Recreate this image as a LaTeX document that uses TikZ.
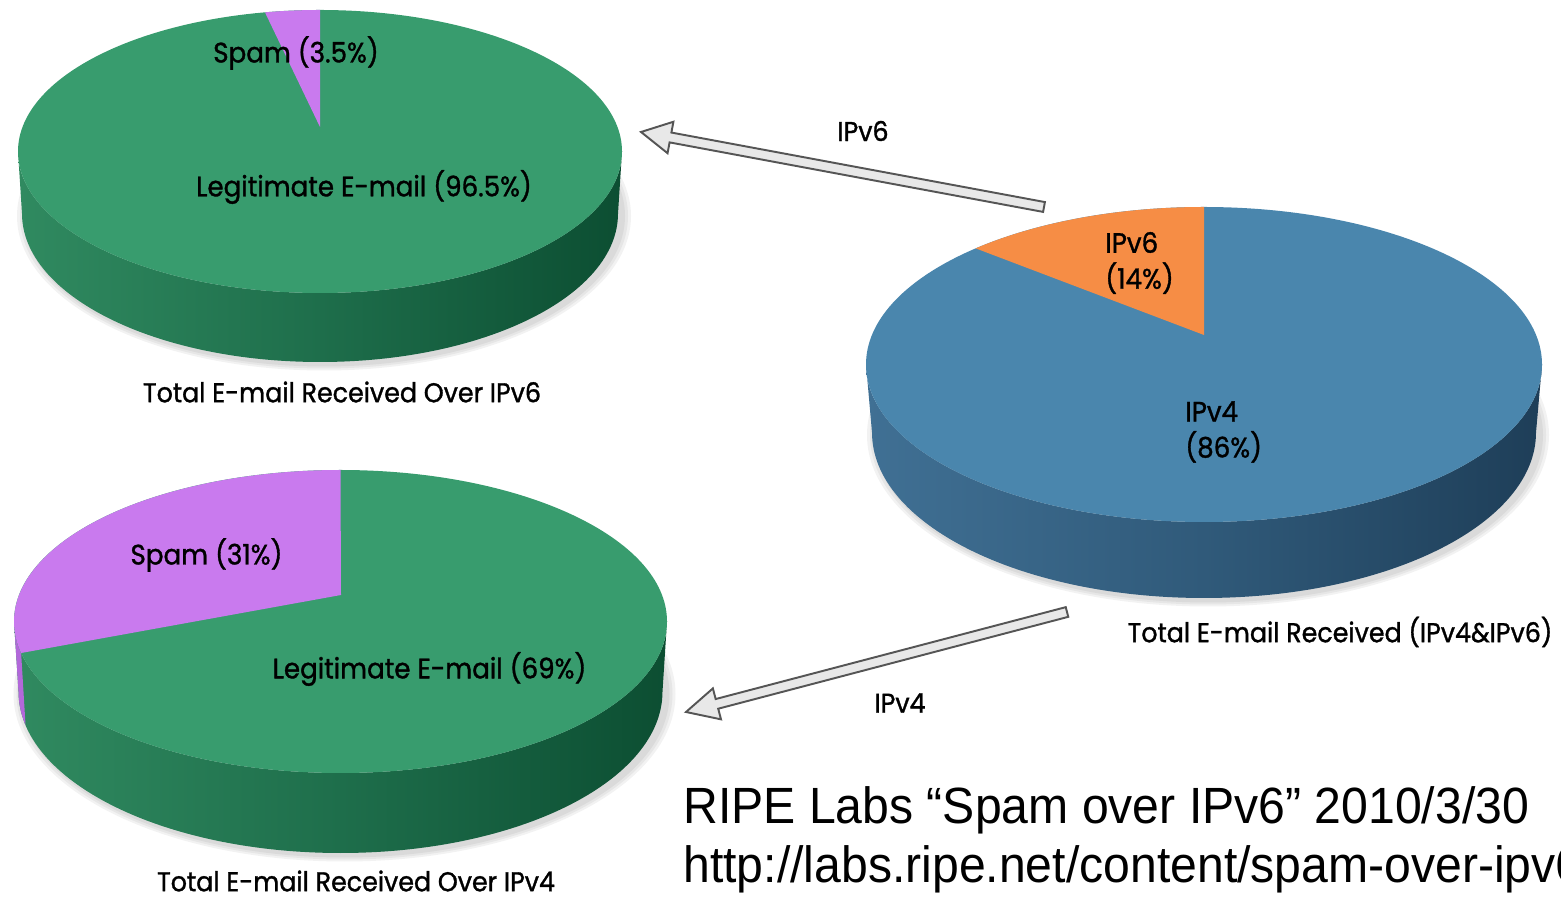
\documentclass[tikz,border=0pt]{standalone}
\usepackage{fontspec}
\usetikzlibrary{calc}
\newfontfamily\lab[FakeStretch=0.93,FakeBold=1.2]{Poppins}
\newfontfamily\helv[FakeStretch=0.945]{Liberation Sans}
\definecolor{gtop}{RGB}{56,156,110}
\definecolor{gsideL}{RGB}{48,138,96}
\definecolor{gsideM}{RGB}{30,110,75}
\definecolor{gsideR}{RGB}{12,78,50}
\definecolor{purp}{RGB}{201,122,238}
\definecolor{purpside}{RGB}{178,104,218}
\definecolor{btop}{RGB}{74,134,173}
\definecolor{bsideL}{RGB}{64,112,148}
\definecolor{bsideM}{RGB}{48,90,122}
\definecolor{bsideR}{RGB}{30,62,88}
\definecolor{orng}{RGB}{246,141,69}
\definecolor{arrfill}{RGB}{232,232,232}
\definecolor{arrline}{RGB}{85,85,85}
\begin{document}
\begin{tikzpicture}[x=0.02cm,y=0.02cm,
  lbl/.style={font=\lab\fontsize{16}{20.4}\selectfont, inner sep=0pt, text=black},
  capt/.style={font=\lab\fontsize{15.5}{18}\selectfont, inner sep=0pt, text=black},
  ripe/.style={font=\helv\fontsize{29}{34}\selectfont, inner sep=0pt, text=black},
  blockarrow/.style={fill=arrfill, draw=arrline, line width=1.1pt, line join=miter},
  shadowell/.style={fill=black, opacity=0.05}]
\useasboundingbox (0,0) rectangle (1561,899);
\clip (0,0) rectangle (1561,899);

% ---------- Pie 1 (top left) ----------
\foreach \k in {1,2,3} {\fill[shadowell] (324,683) ellipse[x radius=298+3*\k, y radius=148.5+2*\k];}
\path[left color=gsideL, right color=gsideR, middle color=gsideM]
  (18,747.5) -- (22,685.5) arc[start angle=180, end angle=360, x radius=298, y radius=148.5]
  -- (622,747.5) arc[start angle=0, end angle=-180, x radius=302, y radius=141.5] -- cycle;
\fill[gtop] (320,747.5) ellipse[x radius=302, y radius=141.5];
\fill[purp] (320,772) -- (320,889) arc[start angle=90, end angle=100.5, x radius=302, y radius=141.5] -- cycle;

% ---------- Pie 2 (right) ----------
\foreach \k in {1,2,3} {\fill[shadowell] (1208,464) ellipse[x radius=332+3*\k, y radius=165.5+2*\k];}
\path[left color=bsideL, right color=bsideR, middle color=bsideM]
  (866,534.5) -- (872,466.5) arc[start angle=180, end angle=360, x radius=332, y radius=165.5]
  -- (1542,534.5) arc[start angle=0, end angle=-180, x radius=338, y radius=157.5] -- cycle;
\fill[btop] (1204,534.5) ellipse[x radius=338, y radius=157.5];
\fill[orng] (1204,564) -- (1204,692) arc[start angle=90, end angle=132.5, x radius=338, y radius=157.5] -- cycle;

% ---------- Pie 3 (bottom left) ----------
\foreach \k in {1,2,3} {\fill[shadowell] (344.5,205) ellipse[x radius=322+3*\k, y radius=161.5+2*\k];}
\path[left color=gsideL, right color=gsideR, middle color=gsideM]
  (14,277.5) -- (18.5,207.5) arc[start angle=180, end angle=360, x radius=322, y radius=161.5]
  -- (667,277.5) arc[start angle=0, end angle=-180, x radius=326.5, y radius=151.5] -- cycle;
\fill[purpside] (14,277.5) arc[start angle=180, end angle=192, x radius=326.5, y radius=151.5]
  -- ($(340.5,207.5)+(192:322 and 161.5)$) arc[start angle=192, end angle=180, x radius=322, y radius=161.5] -- cycle;
\fill[gtop] (340.5,277.5) ellipse[x radius=326.5, y radius=151.5];
\fill[purp] (341,304) -- (340.5,429) arc[start angle=90, end angle=192, x radius=326.5, y radius=151.5] -- cycle;

% ---------- Arrows ----------
\coordinate (a1t) at (1044,692);
\coordinate (a1h) at (641,767);
\coordinate (a1b) at ($(a1h)!0.6cm!(a1t)$);
\draw[blockarrow] ($(a1t)!0.1cm!90:(a1h)$) -- ($(a1b)!0.1cm!90:(a1h)$) -- ($(a1b)!0.32cm!90:(a1h)$)
  -- (a1h) -- ($(a1b)!0.32cm!-90:(a1h)$) -- ($(a1b)!0.1cm!-90:(a1h)$) -- ($(a1t)!0.1cm!-90:(a1h)$) -- cycle;
\coordinate (a2t) at (1067,287);
\coordinate (a2h) at (686,187);
\coordinate (a2b) at ($(a2h)!0.64cm!(a2t)$);
\draw[blockarrow] ($(a2t)!0.1cm!90:(a2h)$) -- ($(a2b)!0.1cm!90:(a2h)$) -- ($(a2b)!0.32cm!90:(a2h)$)
  -- (a2h) -- ($(a2b)!0.32cm!-90:(a2h)$) -- ($(a2b)!0.1cm!-90:(a2h)$) -- ($(a2t)!0.1cm!-90:(a2h)$) -- cycle;

% ---------- Labels ----------
\node[lbl] (s1) at (296,846) {Spam (3.5\%)};
\node[lbl] (l1) at (364,712) {Legitimate E-mail (96.5\%)};
\node[capt] (c1) at (342,507) {Total E-mail Received Over IPv6};
\node[lbl,anchor=west,align=left] (p6) at (1105,636) {IPv6\\(14\%)};
\node[lbl,anchor=west,align=left] (p4) at (1185,467) {IPv4\\(86\%)};
\node[capt] (c2) at (1340,267) {Total E-mail Received (IPv4\&IPv6)};
\node[lbl] (s3) at (206.5,344) {Spam (31\%)};
\node[lbl] (l3) at (429.5,230) {Legitimate E-mail (69\%)};
\node[capt] (c3) at (356,18) {Total E-mail Received Over IPv4};
\node[capt] (al6) at (863,768) {IPv6};
\node[capt] (al4) at (900,196) {IPv4};
\node[ripe,anchor=west] (r1) at (683,89) {RIPE Labs “Spam over IPv6” 2010/3/30};
\node[ripe,anchor=west] (r2) at (683,30) {http://labs.ripe.net/content/spam-over-ipv6};
\end{tikzpicture}
\end{document}
